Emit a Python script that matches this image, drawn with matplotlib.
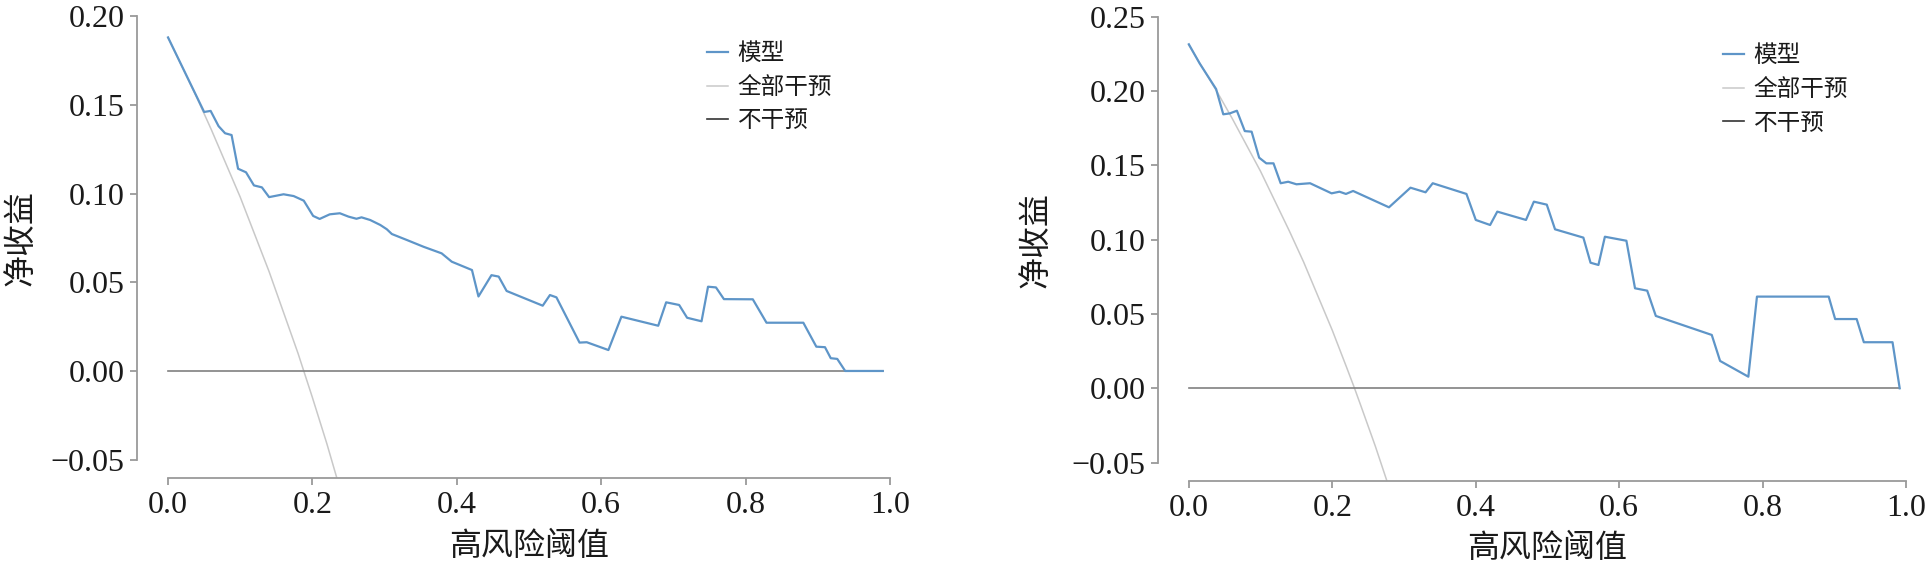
import matplotlib
matplotlib.use("Agg")
import matplotlib.pyplot as plt

plt.rcParams['font.family'] = ['Liberation Serif', 'Noto Sans CJK SC', 'DejaVu Sans']
plt.rcParams['font.serif'] = ['Liberation Serif']
plt.rcParams['axes.unicode_minus'] = True

# ---------------- data ----------------
thresholds_ticks = [0.0, 0.2, 0.4, 0.6, 0.8, 1.0]

left_model_x = [0.000, 0.050, 0.059, 0.070, 0.079, 0.088, 0.097, 0.108, 0.119, 0.130,
                0.140, 0.160, 0.174, 0.188, 0.201, 0.210, 0.224, 0.238, 0.250, 0.261,
                0.268, 0.280, 0.294, 0.303, 0.310, 0.331, 0.354, 0.379, 0.393, 0.421,
                0.430, 0.448, 0.458, 0.469, 0.519, 0.529, 0.538, 0.570, 0.580, 0.610,
                0.628, 0.679, 0.690, 0.708, 0.719, 0.739, 0.748, 0.759, 0.770, 0.810,
                0.829, 0.880, 0.898, 0.910, 0.918, 0.927, 0.938, 0.990]
left_model_y = [0.188, 0.146, 0.1466, 0.138, 0.134, 0.133, 0.114, 0.112, 0.1046, 0.1035,
                0.098, 0.0996, 0.0986, 0.096, 0.0874, 0.0857, 0.0883, 0.0889, 0.087, 0.0858,
                0.0866, 0.0851, 0.0823, 0.0799, 0.0772, 0.0738, 0.070, 0.0663, 0.0616, 0.0569,
                0.042, 0.054, 0.0532, 0.0451, 0.0368, 0.0428, 0.0415, 0.016, 0.0162, 0.0118,
                0.0306, 0.0255, 0.0387, 0.0372, 0.030, 0.0280, 0.0475, 0.0471, 0.0405, 0.0404,
                0.0272, 0.0272, 0.0137, 0.0134, 0.0072, 0.0068, 0.0, 0.0]
left_all_x = [0.000, 0.020, 0.040, 0.060, 0.080, 0.100, 0.120, 0.140, 0.160,
              0.180, 0.188, 0.200, 0.220, 0.240, 0.260]
left_all_y = [0.188, 0.171, 0.154, 0.136, 0.117, 0.098, 0.077, 0.056, 0.033,
              0.010, 0.000, -0.015, -0.041, -0.069, -0.097]
left_none_x = [0.0, 0.99]
left_none_y = [0.0, 0.0]

right_model_x = [0.000, 0.015, 0.038, 0.048, 0.057, 0.067, 0.078, 0.0875, 0.098, 0.108,
                 0.118, 0.128, 0.1385, 0.150, 0.169, 0.199, 0.210, 0.219, 0.229, 0.279,
                 0.309, 0.330, 0.340, 0.387, 0.400, 0.420, 0.430, 0.470, 0.481, 0.499,
                 0.5105, 0.550, 0.560, 0.571, 0.580, 0.610, 0.622, 0.639, 0.651, 0.729,
                 0.7406, 0.780, 0.792, 0.892, 0.901, 0.931, 0.941, 0.981, 0.991]
right_model_y = [0.2315, 0.2187, 0.2014, 0.1844, 0.185, 0.1868, 0.1731, 0.1727, 0.1552, 0.1514,
                 0.1514, 0.138, 0.139, 0.1373, 0.138, 0.1312, 0.1323, 0.1308, 0.1328, 0.1218,
                 0.135, 0.1319, 0.138, 0.1308, 0.1133, 0.1099, 0.1189, 0.1133, 0.1256, 0.1236,
                 0.107, 0.1014, 0.0845, 0.083, 0.102, 0.0993, 0.0673, 0.0657, 0.0487, 0.0359,
                 0.0184, 0.0078, 0.0617, 0.0617, 0.0466, 0.0466, 0.031, 0.031, 0.0]
right_all_x = [0.000, 0.020, 0.040, 0.060, 0.080, 0.100, 0.120, 0.140, 0.160,
               0.180, 0.200, 0.220, 0.231, 0.240, 0.260, 0.280, 0.300]
right_all_y = [0.231, 0.215, 0.199, 0.182, 0.164, 0.146, 0.126, 0.106, 0.085,
               0.062, 0.039, 0.014, 0.000, -0.012, -0.039, -0.068, -0.099]
right_none_x = [0.0, 0.99]
right_none_y = [0.0, 0.0]

left_yticks = [-0.05, 0.00, 0.05, 0.10, 0.15, 0.20]
right_yticks = [-0.05, 0.00, 0.05, 0.10, 0.15, 0.20, 0.25]

legend_labels = ['模型', '全部干预', '不干预']
xlabel = '高风险阈值'
ylabel = '净收益'

# ---------------- figure ----------------
W, H = 1929, 570
fig = plt.figure(figsize=(W / 100, H / 100), dpi=100)

def px_axes(x0, x1, ytop, ybot):
    return [x0 / W, (H - ybot) / H, (x1 - x0) / W, (ybot - ytop) / H]

ax1 = fig.add_axes(px_axes(137, 921, 7.3, 478.3))
ax2 = fig.add_axes(px_axes(1158, 1937, 9.4, 481))

model_color = '#5e95c8'
all_color = '#c9c9c9'
none_color = '#808080'
spine_color = '#9a9a9a'
text_color = '#1a1a1a'
num_font = 'Liberation Serif'
cjk_font = ['Noto Sans CJK SC', 'DejaVu Sans']

panels = [
    (ax1, left_model_x, left_model_y, left_all_x, left_all_y, left_none_x, left_none_y,
     left_yticks, (-0.0605, 0.205), 0.727, 0.926),
    (ax2, right_model_x, right_model_y, right_all_x, right_all_y, right_none_x, right_none_y,
     right_yticks, (-0.0624, 0.255), 0.725, 0.926),
]

for (ax, mx, my, axx, ayy, nx, ny, yt, ylim, lgx, lgy) in panels:
    ax.plot(mx, my, color=model_color, lw=1.6, label=legend_labels[0], zorder=3)
    ax.plot(axx, ayy, color=all_color, lw=1.1, label=legend_labels[1], zorder=2)
    ax.plot(nx, ny, color=none_color, lw=1.2, label=legend_labels[2], zorder=2)
    ax.set_xlim(-0.043, 1.043)
    ax.set_ylim(*ylim)
    ax.set_xticks(thresholds_ticks)
    ax.set_xticklabels([f'{t:.1f}' for t in thresholds_ticks],
                       fontfamily=num_font, fontsize=23, color=text_color)
    ax.set_yticks(yt)
    ax.set_yticklabels([f'{t:.2f}'.replace('-', '\u2212') for t in yt],
                       fontfamily=num_font, fontsize=23, color=text_color)
    for s in ['top', 'right']:
        ax.spines[s].set_visible(False)
    for s in ['left', 'bottom']:
        ax.spines[s].set_color(spine_color)
        ax.spines[s].set_linewidth(1.3)
    ax.spines['left'].set_bounds(yt[0], yt[-1])
    ax.spines['bottom'].set_bounds(0.0, 1.0)
    ax.tick_params(axis='both', direction='out', length=5, width=1.3, color=spine_color, pad=4)
    ax.set_xlabel(xlabel, fontsize=23, color=text_color, family=cjk_font)
    ax.xaxis.set_label_coords(0.5, -0.143)
    ax.xaxis.label.set_va('center')
    ax.set_ylabel(ylabel, fontsize=23, color=text_color, family=cjk_font)
    ax.yaxis.label.set_va('center')
    leg = ax.legend(loc='upper left', bbox_to_anchor=(lgx, lgy), frameon=False,
                    handlelength=0.9, handletextpad=0.4, labelspacing=0.45,
                    borderaxespad=0, borderpad=0,
                    prop={'family': cjk_font, 'size': 17})
    for t in leg.get_texts():
        t.set_color(text_color)
    hl = leg.get_lines()
    hl[2].set_color('#333333')

ax1.yaxis.set_label_coords(-0.149, 0.51)
ax2.yaxis.set_label_coords(-0.157, 0.511)

fig.savefig('out.png', dpi=100)
